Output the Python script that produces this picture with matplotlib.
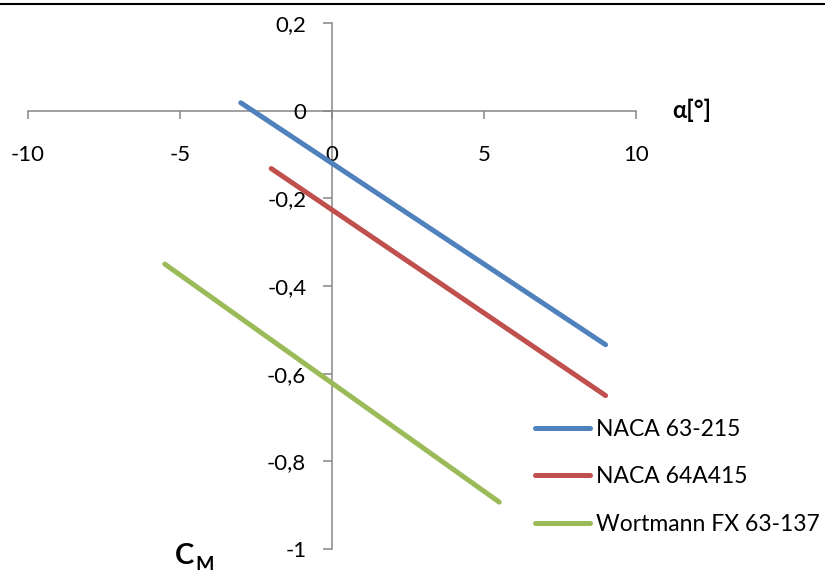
import matplotlib.pyplot as plt
from matplotlib.lines import Line2D

# moment coefficient vs angle of attack
names = ['NACA 63-215', 'NACA 64A415', 'Wortmann FX 63-137']
alpha = [[-3.0, 9.0], [-2.0, 9.0], [-5.5, 5.5]]
cm = [[0.018, -0.534], [-0.132, -0.65], [-0.35, -0.893]]
colors = ['#4F81BD', '#C0504D', '#9BBB59']

xticks = [-10, -5, 0, 5, 10]
yticks = [0.2, 0, -0.2, -0.4, -0.6, -0.8, -1]
ylabels = ['0,2', '0', '-0,2', '-0,4', '-0,6', '-0,8', '-1']

plt.rcParams['font.family'] = ['Lato', 'DejaVu Sans']

fig = plt.figure(figsize=(8.25, 5.76), dpi=100)
ax = fig.add_axes([28/825, 27/576, 608/825, 526/576])

for a, c, col, n in zip(alpha, cm, colors, names):
    ax.plot(a, c, color=col, lw=3.6, solid_capstyle='round', label=n)

ax.set_xlim(-10, 10)
ax.set_ylim(-1, 0.2)
ax.spines['left'].set_position(('data', 0))
ax.spines['bottom'].set_position(('data', 0))
ax.spines['top'].set_visible(False)
ax.spines['right'].set_visible(False)
for s in ['left', 'bottom']:
    ax.spines[s].set_color('#868686')
    ax.spines[s].set_linewidth(1.1)
    ax.spines[s].set_zorder(0)

ax.set_xticks(xticks)
ax.set_xticklabels([str(v) for v in xticks])
ax.set_yticks(yticks)
ax.set_yticklabels(ylabels)
ax.tick_params(axis='x', direction='out', length=6, width=1.1, color='#868686',
               pad=19, labelsize=16)
ax.tick_params(axis='y', direction='out', length=6.5, width=1.1, color='#868686',
               pad=12, labelsize=16)

ax.text(11.2, 0, 'α[°]', fontsize=17, fontweight='bold', va='center', ha='left')
fig.text(175/825, 1 - 556/576, 'C', fontsize=21, fontweight='bold', va='center', ha='left')
fig.text(195/825, 1 - 564/576, 'M', fontsize=14, fontweight='bold', va='center', ha='left')

ax.legend(loc='upper left', bbox_to_anchor=(535/825, 1 - 419/576),
          bbox_transform=fig.transFigure, frameon=False, fontsize=16.5,
          handlelength=2.4, handletextpad=0.28, labelspacing=1.15,
          borderpad=0, borderaxespad=0)

fig.add_artist(Line2D([0, 1], [1 - 4/576, 1 - 4/576], color='black', lw=1.5,
                      transform=fig.transFigure))

plt.savefig('out.png', dpi=100)
